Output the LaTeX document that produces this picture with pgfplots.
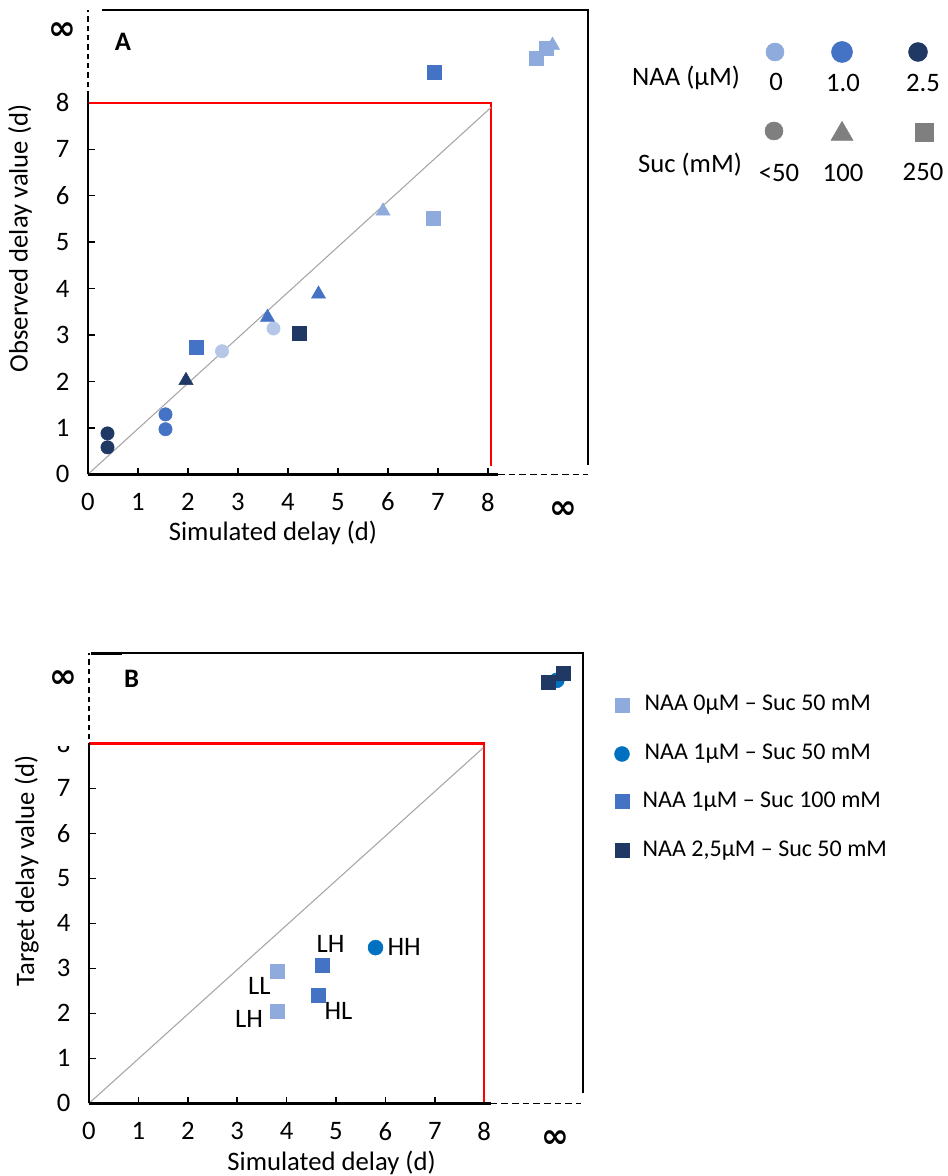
\documentclass[border=0pt]{standalone}
\usepackage{pgfplots}
\pgfplotsset{compat=1.18}
\usepackage{fontspec}
\setmainfont{Carlito}
\newfontfamily\dejab{DejaVu Sans}
\definecolor{lightb}{HTML}{8FAADC}
\definecolor{paleb}{HTML}{B4C7E7}
\definecolor{medb}{HTML}{4472C4}
\definecolor{darkb}{HTML}{203864}
\definecolor{vivb}{HTML}{0070C0}
\definecolor{gmark}{HTML}{7F7F7F}
\definecolor{diag}{HTML}{A6A6A6}
\newcommand\fs{\fontsize{20}{24}\selectfont}
\newcommand\fl{\fontsize{18}{22}\selectfont}
\newcommand\infsym{\raisebox{0pt}[10pt][0pt]{\dejab\bfseries\fontsize{25}{25}\selectfont ∞}}
\pgfplotsset{
 panel/.style={scale only axis, xmin=0,xmax=10,ymin=0,ymax=10, clip=false,
  axis line style={draw=none}, tick align=inside, xtick pos=left, ytick pos=left,
  xtick={0,...,8}, ytick={0,...,8}, major tick length=5pt,
  tick style={black, line width=1.1pt},
  /pgf/number format/assume math mode=true,
  tick label style={font=\fs},
  xticklabel style={yshift=-10.5pt}, yticklabel style={xshift=-10.5pt},
  extra x tick style={major tick length=0pt, tick label style={yshift=-9pt}},
  extra y tick style={major tick length=0pt, tick label style={xshift=5pt, yshift=-3pt}},
 },
 dot/.style={only marks, mark=*, color=#1, mark size=5pt},
 tri/.style={only marks, mark=triangle*, color=#1, mark size=6.1pt},
 sq/.style={only marks, mark=square*, color=#1, mark size=5.25pt},
}
\begin{document}
\begin{tikzpicture}
\useasboundingbox (0,0) rectangle (710.25pt,882pt);
% ---------------- Panel A ----------------
\begin{axis}[panel, at={(66pt,526.3pt)}, anchor=south west, width=375pt, height=348.2pt,
  extra x ticks={9.5}, extra x tick labels={\infsym}, extra y ticks={9.6}, extra y tick labels={\infsym}]
\draw[red, line width=1.8pt] (axis cs:0,8) -- (axis cs:8.06,8) -- (axis cs:8.06,0.18);
\addplot[diag, line width=0.8pt] coordinates {(0,0) (8.06,7.9)};
\draw[black, line width=1.9pt] (axis cs:0,0) -- (axis cs:0,8.14);
\draw[black, line width=0.9pt, dash pattern=on 4pt off 3pt] (axis cs:0,8.14) -- (axis cs:0,10);
\draw[black, line width=1.9pt] (axis cs:0,0) -- (axis cs:8.2,0);
\draw[black, line width=0.9pt, dash pattern=on 5pt off 3pt] (axis cs:8.2,0) -- (axis cs:10,0);
\draw[black, line width=1.5pt] (axis cs:0.27,10) -- (axis cs:10,10) -- (axis cs:10,0.19);
\addplot[dot=paleb] coordinates {(2.68,2.65) (3.71,3.14)};
\addplot[dot=medb] coordinates {(1.55,1.29) (1.55,0.97)};
\addplot[dot=darkb] coordinates {(0.39,0.88) (0.39,0.58)};
\addplot[tri=darkb] coordinates {(1.96,2.02)};
\addplot[tri=medb] coordinates {(3.59,3.38) (4.61,3.88)};
\addplot[tri=lightb] coordinates {(5.90,5.67) (9.29,9.24)};
\addplot[sq=medb] coordinates {(2.16,2.74) (6.92,8.66)};
\addplot[sq=darkb] coordinates {(4.22,3.04)};
\addplot[sq=lightb] coordinates {(6.90,5.52) (8.97,8.96) (9.17,9.18)};
\node[font=\bfseries\fontsize{20}{24}\selectfont] at (axis cs:0.7,9.32) {A};
\node[font=\fs] at (axis cs:3.7,-1.27) {Simulated delay (d)};
\node[font=\fs, rotate=90] at (axis cs:-1.36,5.08) {Observed delay value (d)};
\end{axis}
% ---------------- Panel B ----------------
\begin{axis}[panel, at={(66.75pt,54.5pt)}, anchor=south west, width=370.5pt, height=337.5pt,
  extra x ticks={9.45}, extra x tick labels={\infsym}, extra y ticks={9.48}, extra y tick labels={\infsym}]
\draw[red, line width=1.8pt] (axis cs:0,8) -- (axis cs:8.0,8) -- (axis cs:8.0,0);
\addplot[diag, line width=0.8pt] coordinates {(0,0) (7.98,7.9)};
\draw[black, line width=1.9pt] (axis cs:0,0) -- (axis cs:0,7.88);
\draw[black, line width=0.9pt, dash pattern=on 4pt off 3pt] (axis cs:0,7.88) -- (axis cs:0,10);
\draw[black, line width=1.9pt] (axis cs:0,0) -- (axis cs:8.13,0);
\draw[black, line width=0.9pt, dash pattern=on 5pt off 3pt] (axis cs:8.13,0) -- (axis cs:9.95,0);
\draw[black, line width=1.3pt] (axis cs:0.04,10) -- (axis cs:10,10) -- (axis cs:10,0.22);
\draw[black, line width=2.4pt] (axis cs:0.04,10) -- (axis cs:0.66,10);
\addplot[sq=lightb] coordinates {(3.82,2.93) (3.82,2.05)};
\addplot[dot=vivb, mark size=5.6pt] coordinates {(5.80,3.46) (9.47,9.40)};
\addplot[sq=medb] coordinates {(4.73,3.07) (4.65,2.40)};
\addplot[sq=darkb] coordinates {(9.29,9.35) (9.60,9.55)};
\node[font=\fs] at (axis cs:4.89,3.55) {LH};
\node[font=\fs] at (axis cs:6.38,3.48) {HH};
\node[font=\fs] at (axis cs:3.45,2.61) {LL};
\node[font=\fs] at (axis cs:3.24,1.88) {LH};
\node[font=\fs] at (axis cs:5.05,2.05) {HL};
\node[font=\bfseries\fontsize{20}{24}\selectfont] at (axis cs:0.86,9.43) {B};
\node[font=\fs] at (axis cs:4.91,-1.33) {Simulated delay (d)};
\node[font=\fs, rotate=90] at (axis cs:-1.26,5.16) {Target delay value (d)};
\end{axis}
% ---------------- Legends (pixel coordinates) ----------------
\begin{axis}[scale only axis, at={(0pt,0pt)}, anchor=south west, width=710.25pt, height=882pt,
  xmin=0, xmax=947, ymin=0, ymax=1176, y dir=reverse, hide axis, clip=false]
\fill[white] (axis cs:38,722) rectangle (axis cs:82,745.5);
\addplot[only marks, mark=*, color=lightb, mark size=6.75pt] coordinates {(775,52)};
\addplot[only marks, mark=*, color=medb, mark size=7.9pt] coordinates {(842,52)};
\addplot[only marks, mark=*, color=darkb, mark size=7.1pt] coordinates {(918,52)};
\addplot[only marks, mark=*, color=gmark, mark size=6.75pt] coordinates {(774,131)};
\addplot[only marks, mark=triangle*, color=gmark, mark size=9.5pt] coordinates {(842,134)};
\addplot[only marks, mark=square*, color=gmark, mark size=6.75pt] coordinates {(924,132)};
\node[font=\fs] at (axis cs:686,78) {NAA (µM)};
\node[font=\fs] at (axis cs:776,82) {0};
\node[font=\fs] at (axis cs:843,83) {1.0};
\node[font=\fs] at (axis cs:923,83) {2.5};
\node[font=\fs] at (axis cs:690,165) {Suc (mM)};
\node[font=\fs] at (axis cs:779,173) {<50};
\node[font=\fs] at (axis cs:843,173) {100};
\node[font=\fs] at (axis cs:923,172) {250};
\addplot[only marks, mark=square*, color=lightb, mark size=5.25pt] coordinates {(622,705)};
\addplot[only marks, mark=*, color=vivb, mark size=5.6pt] coordinates {(622,754)};
\addplot[only marks, mark=square*, color=medb, mark size=5.25pt] coordinates {(622,801.5)};
\addplot[only marks, mark=square*, color=darkb, mark size=5.25pt] coordinates {(622,850.5)};
\node[font=\fl, anchor=west] at (axis cs:640,705) {NAA 0µM – Suc 50 mM};
\node[font=\fl, anchor=west] at (axis cs:640,754) {NAA 1µM – Suc 50 mM};
\node[font=\fl, anchor=west] at (axis cs:638,801.5) {NAA 1µM – Suc 100 mM};
\node[font=\fl, anchor=west] at (axis cs:638,850.5) {NAA 2,5µM – Suc 50 mM};
\end{axis}
\end{tikzpicture}
\end{document}
